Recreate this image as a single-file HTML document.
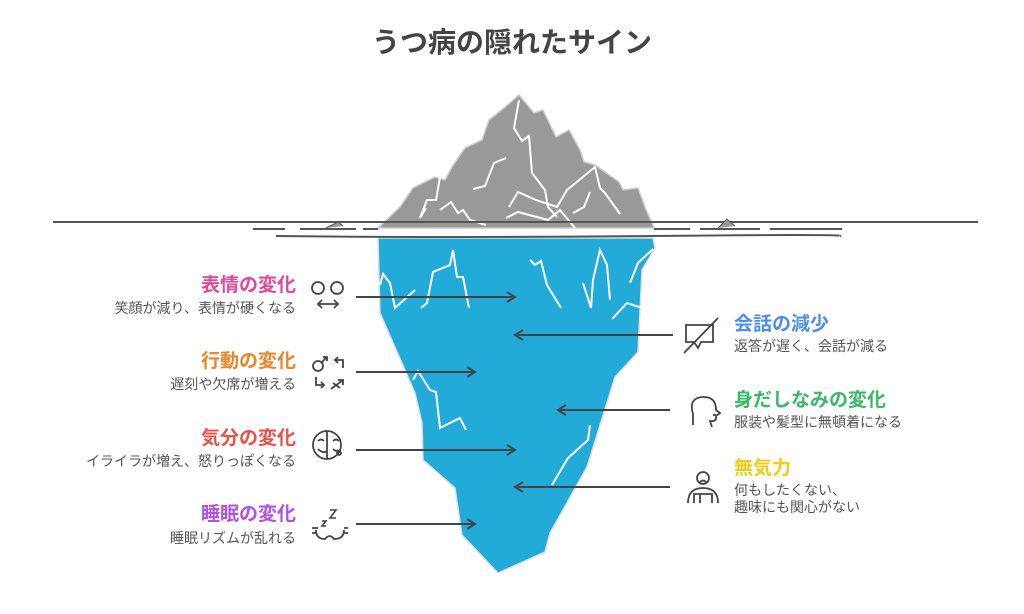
<!DOCTYPE html>
<html><head><meta charset="utf-8"><style>
html,body{margin:0;padding:0;background:#fff;}
svg{display:block;}
text{font-family:"Liberation Sans","Noto Sans CJK JP",sans-serif;}
.t{font-weight:bold;font-size:19px;}
.s{font-size:14px;fill:#555;}
</style></head><body>
<svg width="1024" height="614" viewBox="0 0 1024 614" xmlns="http://www.w3.org/2000/svg">
<defs><marker id="ah" markerWidth="12" markerHeight="12" refX="10" refY="6" orient="auto" markerUnits="userSpaceOnUse"><path d="M2,1 L10,6 L2,11" fill="none" stroke="#444" stroke-width="2"/></marker></defs>
<text x="512" y="52" text-anchor="middle" font-size="28" font-weight="bold" fill="#444">うつ病の隠れたサイン</text>
<!-- underwater -->
<polygon points="378,238 380,313 415,393 422,423 423,460 455,488 462,535 498,573 545,552 550,533 587,467 615,377 638,352 642,270 655,248 653,238" fill="#22aad9" stroke="#ddd" stroke-width="1.5"/>
<g fill="none" stroke="#fff" stroke-width="2">
<polyline points="380,285 383,274 390,283 395,308 415,290"/>
<polyline points="421,308 427,303 433,272 450,265 453,250 457,277 463,277 469,308"/>
<polyline points="530,260 535,265 541,261 547,285 561,308"/>
<polyline points="583,283 591,308 593,280 600,250 607,265 610,300"/>
<polyline points="630,283 638,263 653,249"/>
<polyline points="612,319 627,303 642,308"/>
<polyline points="413,380 418,371 430,390 436,392 440,428 460,418 466,430"/>
<polyline points="590,425 588,440 568,458 552,485"/>
</g>
<!-- above water -->
<polygon points="378,228 400,207 413,188 435,177 445,180 452,167 465,148 482,140 489,120 504,108 519,95 534,113 543,110 556,137 569,130 580,150 584,162 595,165 619,182 623,190 638,188 645,207 654,228" fill="#999" stroke="#ccc" stroke-width="1.5"/>
<g fill="none" stroke="#fff" stroke-width="2">
<polyline points="519,100 514,128 522,141 529,136 532,173 545,190 548,207 557,217"/>
<polyline points="473,189 485,186 494,163 506,158"/>
<polyline points="440,177 436,200 427,200 420,218 426,208"/>
<polyline points="440,210 451,202 458,213 463,210 470,220 486,225"/>
<polyline points="506,218 518,212 548,220 560,210 575,228"/>
<polyline points="509,207 518,192 536,200 557,207 567,190 595,167 600,188 605,193 620,214"/>
<polyline points="573,213 584,207 590,192"/>
</g>
<!-- water lines -->
<line x1="53" y1="222" x2="978" y2="222" stroke="#555" stroke-width="2"/>
<path d="M253,229 H285 M300,229 H356 M363,229 H378 M654,229 H690 M700,229 H760 M770,229 H842" stroke="#555" stroke-width="2"/>
<path d="M276,236 Q450,238 650,236 T840,236" stroke="#555" stroke-width="2" fill="none"/>
<path d="M326,228 L338,222 L343,226" fill="#999" stroke="#555"/>
<path d="M718,228 L727,219 L735,226" fill="#999" stroke="#555"/>
<!-- arrows -->
<g stroke="#444" stroke-width="2" marker-end="url(#ah)">
<line x1="356" y1="297" x2="515" y2="297"/>
<line x1="356" y1="372" x2="475" y2="372"/>
<line x1="356" y1="450" x2="515" y2="450"/>
<line x1="356" y1="524" x2="475" y2="524"/>
<line x1="673" y1="335" x2="515" y2="335"/>
<line x1="670" y1="410" x2="558" y2="410"/>
<line x1="670" y1="487" x2="515" y2="487"/>
</g>
<!-- left text -->
<text x="296" y="291" text-anchor="end" class="t" fill="#e0489a">表情の変化</text>
<text x="296" y="313" text-anchor="end" class="s">笑顔が減り、表情が硬くなる</text>
<text x="296" y="367" text-anchor="end" class="t" fill="#e8862a">行動の変化</text>
<text x="296" y="389" text-anchor="end" class="s">遅刻や欠席が増える</text>
<text x="296" y="444" text-anchor="end" class="t" fill="#e8524a">気分の変化</text>
<text x="296" y="466" text-anchor="end" class="s">イライラが増え、怒りっぽくなる</text>
<text x="296" y="520" text-anchor="end" class="t" fill="#b352e0">睡眠の変化</text>
<text x="296" y="543" text-anchor="end" class="s">睡眠リズムが乱れる</text>
<!-- right text -->
<text x="734" y="330" class="t" fill="#4a8ee8">会話の減少</text>
<text x="734" y="351" class="s">返答が遅く、会話が減る</text>
<text x="734" y="406" class="t" fill="#3cb86a">身だしなみの変化</text>
<text x="734" y="427" class="s">服装や髪型に無頓着になる</text>
<text x="734" y="474" class="t" fill="#f0cc1a">無気力</text>
<text x="734" y="495" class="s">何もしたくない、</text>
<text x="734" y="512" class="s">趣味にも関心がない</text>
<!-- icons -->
<g fill="none" stroke="#444" stroke-width="1.8">
<circle cx="318" cy="288" r="6"/><circle cx="337" cy="288" r="6"/>
<path d="M318,304 H338 M322,300 L318,304 L322,308 M334,300 L338,304 L334,308"/>
<circle cx="318" cy="366" r="5"/><path d="M322,362 L327,357 M323,357 H327 V361"/>
<path d="M343,368 V360 H335 M338,357 L335,360 L338,363"/>
<path d="M316,377 V385 H324 M321,382 L324,385 L321,388"/>
<path d="M331,389 L343,380 M338,380 H343 V385 M333,383 L340,388"/>
<circle cx="327" cy="445" r="14"/><path d="M327,431 V459 M318,441 Q321,438 324,441 M318,449 Q323,454 327,451"/>
<path d="M333,441 Q336,438 339,441 M333,449 Q336,452 338,450"/><path d="M337,453 Q339,448 341,453 A2,2 0 0 1 337,453Z"/>
<path d="M316,530 Q316,539 325,539 Q330,533 334,539 Q344,539 344,530 M312,528 H318 M316,533 H312 M344,528 H348 M344,533 H348"/>
<path d="M330,510 H336 L330,518 H336 M322,521 H326 L322,526 H326" stroke-width="1.6"/>
<path d="M686,325 V342 H694 L698,348 L701,342 H713 V325 Z"/><path d="M684,353 L718,318"/>
<path d="M693,425 V414 Q688,397 704,397 Q716,397 716,410 L720,413 L716,416 Q717,422 710,421 L712,427 M713,415 H716"/>
<circle cx="703" cy="478" r="6"/><path d="M700,482 Q703,479 706,482 M688,503 Q688,488 703,488 Q718,488 718,503 M694,503 V494 H712 V503 M700,494 V503"/>
</g>
</svg>
</body></html>
